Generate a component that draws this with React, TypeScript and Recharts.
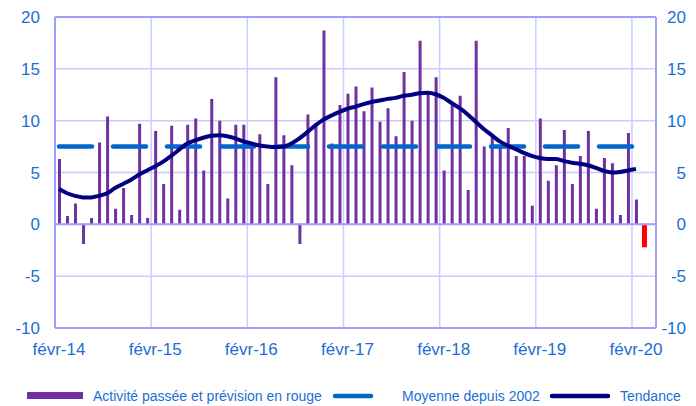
import React from "react";
import {
  ComposedChart,
  Bar,
  Line,
  XAxis,
  YAxis,
  CartesianGrid,
  ReferenceLine,
  Legend,
  Cell,
  Rectangle,
} from "recharts";

// Monthly categories: févr-14 .. avr-20 (75 months)
const monthCount = 75;
const yearTickIndex = [0, 12, 24, 36, 48, 60, 72];
const yearTickLabels = ["févr-14", "févr-15", "févr-16", "févr-17", "févr-18", "févr-19", "févr-20"];
const yTicks = [-10, -5, 0, 5, 10, 15, 20];

// Activité passée (index 0..72) + prévision (index 73, in red)
const activite = [
  6.3, 0.8, 2.0, -1.9, 0.6, 7.9, 10.4, 1.5, 3.5, 0.9, 9.7, 0.6,
  9.0, 3.9, 9.5, 1.4, 9.6, 10.2, 5.2, 12.1, 10.0, 2.5, 9.6, 9.6,
  7.7, 8.7, 3.9, 14.2, 8.6, 5.7, -1.9, 10.6, 9.7, 18.7, 7.8, 11.5,
  12.6, 13.3, 10.9, 13.2, 9.9, 11.2, 8.5, 14.7, 10.0, 17.7, 12.6, 14.2,
  5.2, 11.5, 12.4, 3.3, 17.7, 7.5, 8.6, 7.6, 9.3, 6.6, 6.6, 1.8,
  10.2, 4.2, 5.7, 9.1, 3.9, 6.6, 9.0, 1.5, 6.4, 5.9, 0.9, 8.8,
  2.4, -2.2,
];
const forecastIndex = 73;

const moyenneDepuis2002 = 7.5;
const moyenneLastIndex = 72;

const tendance = [
  3.4, 3.0, 2.75, 2.6, 2.6, 2.75, 3.0, 3.5, 3.9, 4.3, 4.8, 5.2,
  5.6, 6.05, 6.6, 7.2, 7.8, 8.1, 8.35, 8.55, 8.6, 8.5, 8.3, 8.0,
  7.8, 7.6, 7.5, 7.45, 7.5, 7.8, 8.3, 8.9, 9.55, 10.1, 10.5, 10.85,
  11.15, 11.35, 11.6, 11.8, 11.95, 12.1, 12.2, 12.4, 12.5, 12.65, 12.7, 12.55,
  12.2, 11.7, 11.2, 10.6, 9.9, 9.2, 8.6, 8.0, 7.6, 7.25, 6.9, 6.6,
  6.4, 6.3, 6.3, 6.1, 5.95, 5.85, 5.7, 5.45, 5.15, 5.0, 5.05, 5.2,
  5.35,
];

const data = Array.from({ length: monthCount }, (_, i) => ({
  x: i + 0.5,
  activite: i < activite.length ? activite[i] : null,
  moyenne: i <= moyenneLastIndex ? moyenneDepuis2002 : null,
  tendance: i < tendance.length ? tendance[i] : null,
}));

const FONT = "'Liberation Sans', Arial, sans-serif";
const TEXT_BLUE = "#1a6fd4";
const PURPLE = "#7030a0";
const RED = "#ff0000";
const MEAN_BLUE = "#0066cc";
const NAVY = "#000080";
const GRID = "#ccccff";
const BORDER = "#9f9fff";

const LeftTick = (props: any) => {
  const { x, y, payload } = props;
  return (
    <text x={x - 15} y={y + 6} textAnchor="end" fill={TEXT_BLUE} fontSize={17} fontFamily={FONT}>
      {payload.value}
    </text>
  );
};

const RightTick = (props: any) => {
  const { x, y, payload } = props;
  return (
    <text x={x + 30} y={y + 6} textAnchor="end" fill={TEXT_BLUE} fontSize={17} fontFamily={FONT}>
      {payload.value}
    </text>
  );
};

const XTick = (props: any) => {
  const { x, y, payload } = props;
  const idx = yearTickIndex.indexOf(payload.value);
  return (
    <text x={x + 4} y={y + 27} textAnchor="middle" fill={TEXT_BLUE} fontSize={17} fontFamily={FONT}>
      {idx >= 0 ? yearTickLabels[idx] : ""}
    </text>
  );
};

const BarShape = (props: any) => {
  const { x, width, index } = props;
  const w = index === forecastIndex ? 5 : width;
  return <Rectangle {...props} x={x + width / 2 - w / 2} width={w} />;
};

const LegendContent = () => (
  <svg width={696} height={20} style={{ display: "block" }}>
    <rect x={27} y={6} width={56} height={7} fill={PURPLE} />
    <text x={93} y={15} fill={TEXT_BLUE} fontSize={14} fontFamily={FONT}>
      Activité passée et prévision en rouge
    </text>
    <line x1={335} y1={10} x2={371} y2={10} stroke={MEAN_BLUE} strokeWidth={4.5} strokeLinecap="round" />
    <text x={402} y={15} fill={TEXT_BLUE} fontSize={14} fontFamily={FONT}>
      Moyenne depuis 2002
    </text>
    <line x1={552} y1={10} x2={608} y2={10} stroke={NAVY} strokeWidth={4.5} strokeLinecap="round" />
    <text x={620} y={15} fill={TEXT_BLUE} fontSize={14} fontFamily={FONT}>
      Tendance
    </text>
  </svg>
);

export default function App() {
  return (
    <div style={{ position: "absolute", left: 0, top: 0, width: 696, height: 406, background: "#fff" }}>
      <ComposedChart
        width={696}
        height={406}
        data={data}
        margin={{ top: 17, right: 0, bottom: 0, left: 0 }}
      >
        <CartesianGrid
          yAxisId="left"
          stroke={GRID}
          strokeWidth={1.5}
          verticalPoints={undefined}
        />
        <XAxis
          dataKey="x"
          type="number"
          domain={[0, monthCount]}
          ticks={yearTickIndex}
          interval={0}
          height={58}
          tickSize={0}
          tickMargin={0}
          tick={<XTick />}
          axisLine={{ stroke: BORDER, strokeWidth: 2 }}
          tickLine={false}
        />
        <YAxis
          yAxisId="left"
          domain={[-10, 20]}
          ticks={yTicks}
          interval={0}
          width={55}
          tickSize={0}
          tickMargin={0}
          tick={<LeftTick />}
          axisLine={{ stroke: BORDER, strokeWidth: 2 }}
          tickLine={false}
          allowDataOverflow
        />
        <YAxis
          yAxisId="right"
          orientation="right"
          domain={[-10, 20]}
          ticks={yTicks}
          interval={0}
          width={40}
          tickSize={0}
          tickMargin={0}
          tick={<RightTick />}
          axisLine={{ stroke: BORDER, strokeWidth: 2 }}
          tickLine={false}
          allowDataOverflow
        />
        <ReferenceLine yAxisId="left" y={20} stroke={BORDER} strokeWidth={2} />
        <ReferenceLine yAxisId="left" y={0} stroke={BORDER} strokeWidth={2} />
        <Bar
          yAxisId="left"
          dataKey="activite"
          name="Activité passée et prévision en rouge"
          barSize={3}
          fill={PURPLE}
          shape={<BarShape />}
          isAnimationActive={false}
        >
          {data.map((_, i) => (
            <Cell key={i} fill={i === forecastIndex ? RED : PURPLE} />
          ))}
        </Bar>
        <Line
          yAxisId="left"
          dataKey="moyenne"
          name="Moyenne depuis 2002"
          stroke={MEAN_BLUE}
          strokeWidth={4.5}
          strokeDasharray="33 21"
          strokeLinecap="round"
          dot={false}
          activeDot={false}
          isAnimationActive={false}
        />
        <Line
          yAxisId="left"
          dataKey="tendance"
          name="Tendance"
          type="monotone"
          stroke={NAVY}
          strokeWidth={4}
          dot={false}
          activeDot={false}
          isAnimationActive={false}
        />
        <Legend
          verticalAlign="bottom"
          height={20}
          content={<LegendContent />}
          wrapperStyle={{ left: 0, width: 696, height: 20 }}
        />
      </ComposedChart>
    </div>
  );
}
